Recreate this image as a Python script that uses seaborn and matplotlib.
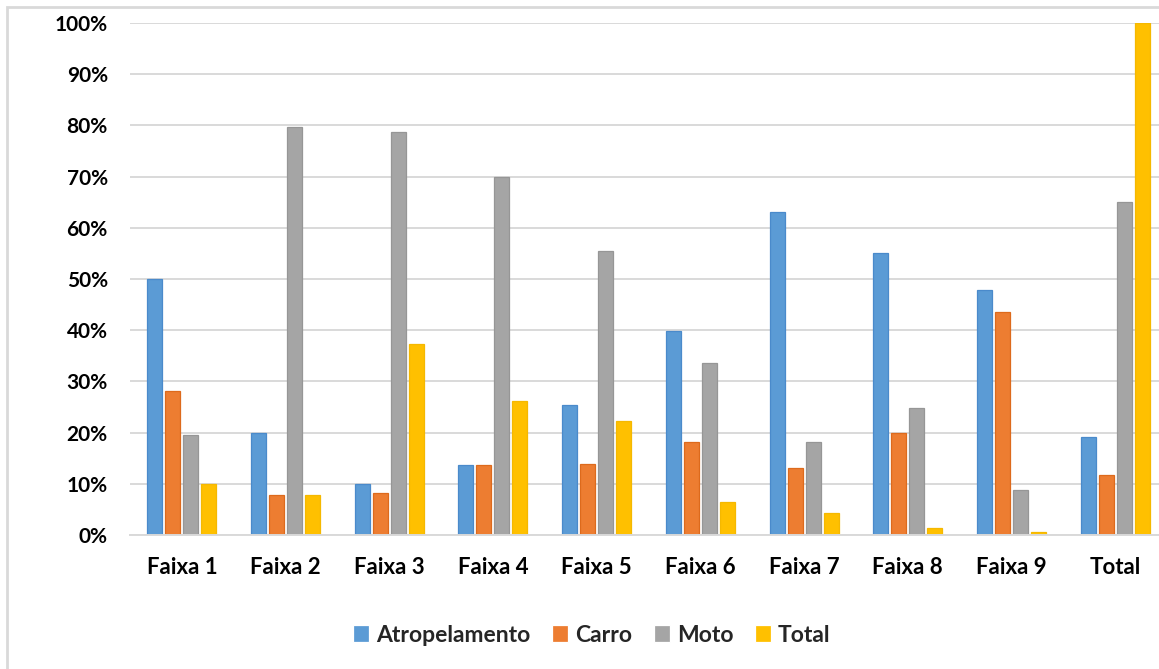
import matplotlib
matplotlib.use("Agg")
import matplotlib.pyplot as plt
from matplotlib.patches import Rectangle
from matplotlib.ticker import FuncFormatter, MultipleLocator
import seaborn as sns
import pandas as pd

# Share of accidents by type in each band (percent)
categories = ["Faixa 1", "Faixa 2", "Faixa 3", "Faixa 4", "Faixa 5",
              "Faixa 6", "Faixa 7", "Faixa 8", "Faixa 9", "Total"]
atropelamento = [50.0, 20.0, 10.0, 13.6, 25.3, 39.9, 63.1, 55.0, 47.9, 19.2]
carro = [28.2, 7.9, 8.3, 13.6, 13.9, 18.2, 13.1, 20.0, 43.5, 11.8]
moto = [19.5, 79.7, 78.7, 69.9, 55.5, 33.5, 18.2, 24.9, 8.7, 65.0]
total = [9.9, 7.75, 37.4, 26.1, 22.3, 6.4, 4.2, 1.3, 0.6, 100.0]

series_names = ["Atropelamento", "Carro", "Moto", "Total"]
series_values = [atropelamento, carro, moto, total]
colors = ["#5B9BD5", "#ED7D31", "#A5A5A5", "#FFC000"]
edges = ["#4A8ACB", "#DD6A1C", "#969696", "#F5B800"]

rows = []
for name, vals in zip(series_names, series_values):
    for cat, v in zip(categories, vals):
        rows.append({"categoria": cat, "tipo": name, "valor": v})
df = pd.DataFrame(rows)

sns.set_theme(style="white")
plt.rcParams["font.family"] = ["Lato", "DejaVu Sans"]

fig = plt.figure(figsize=(11.59, 6.69), dpi=100)
ax = fig.add_axes([130 / 1159, 134 / 669, 1037 / 1159, 512 / 669])

sns.barplot(data=df, x="categoria", y="valor", hue="tipo",
            order=categories, hue_order=series_names,
            palette=colors, saturation=1, width=0.695, gap=0.17,
            linewidth=0.9, ax=ax, legend=True)

# Slightly darker outline per series
for container, ec in zip(ax.containers, edges):
    for patch in container:
        patch.set_edgecolor(ec)

ax.set_ylim(0, 100)
ax.set_xlim(-0.5, len(categories) - 0.5)
ax.yaxis.set_major_locator(MultipleLocator(10))
ax.yaxis.set_major_formatter(FuncFormatter(lambda v, p: f"{v:.0f}%"))
ax.grid(axis="y", color="#D9D9D9", linewidth=1.4)
ax.set_axisbelow(True)
for side in ["top", "right", "left"]:
    ax.spines[side].set_visible(False)
ax.spines["bottom"].set_color("#D9D9D9")
ax.spines["bottom"].set_linewidth(1.4)
ax.set_xlabel("")
ax.set_ylabel("")
ax.tick_params(axis="y", length=0, pad=16, labelsize=15, labelcolor="black")
ax.tick_params(axis="x", length=0, pad=16, labelsize=16, labelcolor="black")
for lbl in ax.get_xticklabels() + ax.get_yticklabels():
    lbl.set_fontweight("bold")

handles, labels = ax.get_legend_handles_labels()
ax.legend_.remove()
fig.legend(handles, labels, loc="center", bbox_to_anchor=(592 / 1159, 1 - 635 / 669),
           ncol=4, frameon=False, handlelength=0.7, handleheight=0.7,
           handletextpad=0.3, columnspacing=0.95,
           prop={"size": 16.5, "weight": "bold"})

# Outer light frame
fig.patches.append(Rectangle((7 / 1159, -0.05), 1.1, 1 - 7 / 669 + 0.05,
                             transform=fig.transFigure, fill=False,
                             edgecolor="#D9D9D9", linewidth=2, zorder=0))

fig.savefig("out.png", dpi=100)
